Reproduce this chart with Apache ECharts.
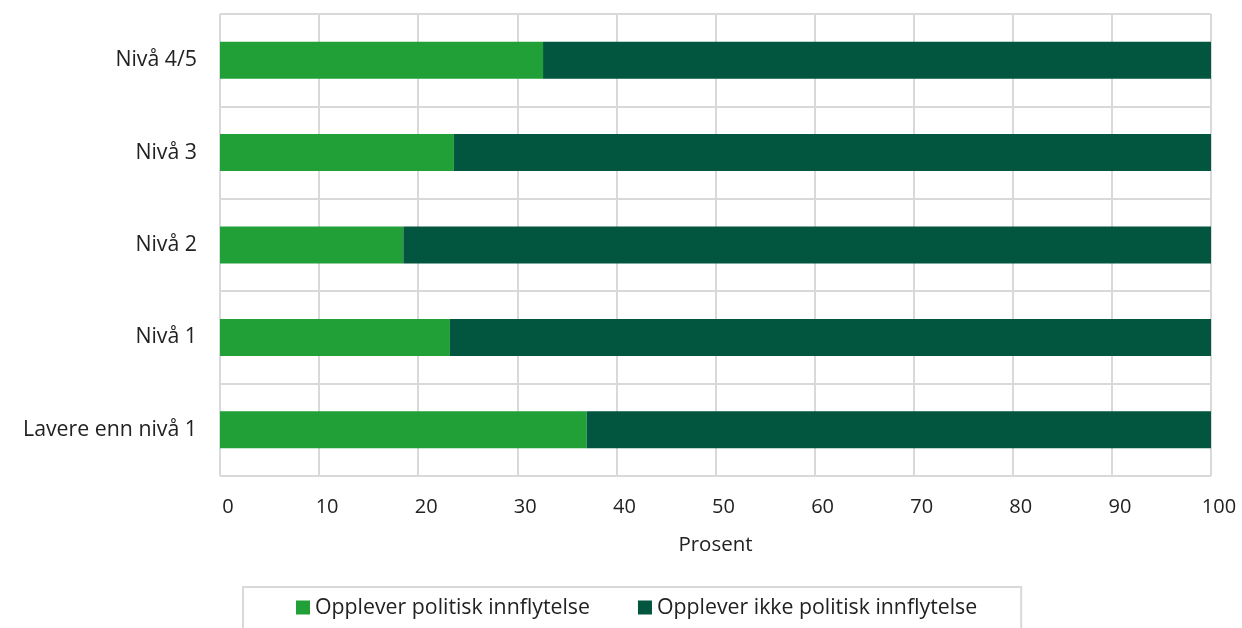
<!DOCTYPE html>
<html>
<head>
<meta charset="utf-8">
<script src="https://cdn.jsdelivr.net/npm/echarts@6/dist/echarts.min.js"></script>
<style>html,body{margin:0;padding:0;background:#fff}#c{width:1242px;height:628px}</style>
</head>
<body>
<div id="c"></div>
<script>
const categories = ['Lavere enn nivå 1', 'Nivå 1', 'Nivå 2', 'Nivå 3', 'Nivå 4/5'];
const seriesNames = ['Opplever politisk innflytelse', 'Opplever ikke politisk innflytelse'];
const influence = [37.0, 23.2, 18.5, 23.6, 32.6];
const noInfluence = [63.0, 76.8, 81.5, 76.4, 67.4];
const xTicks = [0, 10, 20, 30, 40, 50, 60, 70, 80, 90, 100];

const FONT = '"Open Sans", "Noto Sans", sans-serif';
const chart = echarts.init(document.getElementById('c'), null, {renderer: 'canvas'});
chart.setOption({
  animation: false,
  textStyle: {fontFamily: FONT},
  grid: {left: 220, right: 31, top: 14, bottom: 152, containLabel: false},
  xAxis: {
    type: 'value', min: xTicks[0], max: xTicks[xTicks.length - 1], interval: 10,
    name: 'Prosent', nameLocation: 'middle', nameGap: 59,
    nameTextStyle: {fontSize: 20.5, color: '#222', fontFamily: FONT},
    axisLine: {show: false}, axisTick: {show: false},
    axisLabel: {fontSize: 20, color: '#222', margin: 21, padding: [0, 0, 0, 16], fontFamily: FONT},
    splitLine: {show: true, lineStyle: {color: '#d9d9d9', width: 2}}
  },
  yAxis: {
    type: 'category', data: categories,
    axisLine: {show: false}, axisTick: {show: false},
    axisLabel: {fontSize: 21.3, color: '#222', margin: 23, fontFamily: FONT},
    splitLine: {show: true, lineStyle: {color: '#d9d9d9', width: 2}}
  },
  legend: {
    data: seriesNames,
    left: 243, top: 587,
    padding: [10, 44, 30, 53],
    borderColor: '#d9d9d9', borderWidth: 2,
    icon: 'rect', itemWidth: 14, itemHeight: 14, itemGap: 48,
    textStyle: {fontSize: 21.3, color: '#222', fontFamily: FONT}
  },
  series: [
    {name: seriesNames[0], type: 'bar', stack: 'a', data: influence, barCategoryGap: '60%',
     itemStyle: {color: '#21a038'}},
    {name: seriesNames[1], type: 'bar', stack: 'a', data: noInfluence, barCategoryGap: '60%',
     itemStyle: {color: '#02553f'}}
  ]
});
</script>
</body>
</html>
